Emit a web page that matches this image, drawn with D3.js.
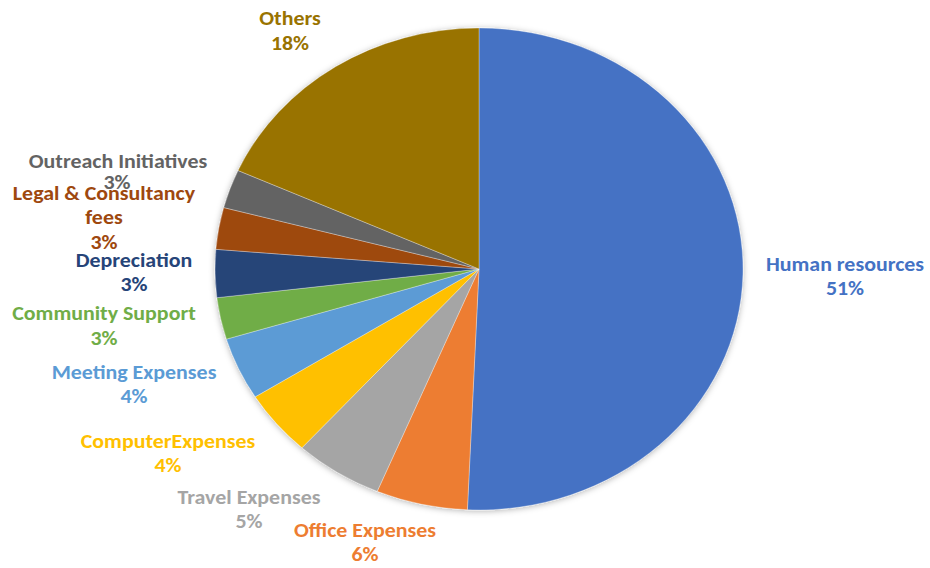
<!DOCTYPE html>
<html><head><meta charset="utf-8">
<script src="https://cdn.jsdelivr.net/npm/d3@7"></script>
<style>body{margin:0;background:#fff}svg{display:block}</style>
</head><body>
<svg id="chart" width="930" height="568"></svg>
<script>
// Data
const categories = ["Human resources","Office Expenses","Travel Expenses","ComputerExpenses","Meeting Expenses","Community Support","Depreciation","Legal & Consultancy fees","Outreach Initiatives","Others"];
const values = [50.7, 5.6, 5.4, 4.4, 4.2, 2.8, 3.2, 2.8, 2.6, 18.3];
const colors = ["#4472C4","#ED7D31","#A5A5A5","#FFC000","#5B9BD5","#70AD47","#264478","#9E480E","#636363","#997300"];

// Layout (label anchor centres, and line breaks)
const labelLines = [["Human resources"],["Office Expenses"],["Travel Expenses"],["ComputerExpenses"],["Meeting Expenses"],["Community Support"],["Depreciation"],["Legal & Consultancy","fees"],["Outreach Initiatives"],["Others"]];
const labelPos = [[845,264],[365,530],[249,497],[168,441],[134,372],[104,313],[134,260],[104,193],[118,161],[290,18]];
const pctPos = [[845,288],[365,554],[249,521],[168,465],[134,396],[104,338],[134,284],[104,242],[117,182],[290,43]];

const cx = 479, cy = 269, rx = 264, ry = 241;
const sx = rx / ry;
const svg = d3.select("#chart");
const defs = svg.append("defs");
const f = defs.append("filter").attr("id","sh").attr("x","-10%").attr("y","-10%").attr("width","120%").attr("height","120%");
f.append("feDropShadow").attr("dx",0).attr("dy",1).attr("stdDeviation",3).attr("flood-color","#000").attr("flood-opacity",0.3);

const total = d3.sum(values);
const pie = d3.pie().sort(null).value(d => d)(values);
const arc = d3.arc().innerRadius(0).outerRadius(ry);
const g = svg.append("g").attr("transform",`translate(${cx},${cy}) scale(${sx},1)`).attr("filter","url(#sh)");
g.selectAll("path").data(pie).join("path")
  .attr("d", arc)
  .attr("fill", (d,i) => colors[i])
  .attr("stroke", "#ffffff").attr("stroke-opacity",0.5).attr("stroke-width",0.6);

const font = "Calibri, Carlito, Lato, sans-serif";
const lg = svg.append("g").attr("font-family", font).attr("font-weight","bold").attr("font-size","20px").attr("text-anchor","middle");
function put(x, y, t, col) {
  lg.append("text").attr("transform", `translate(${x},${y}) scale(${sx},1)`).attr("dy","0.35em")
    .attr("fill", col).text(t);
}
categories.forEach((c,i) => {
  labelLines[i].forEach((t,k) => put(labelPos[i][0], labelPos[i][1] + k*24, t, colors[i]));
  put(pctPos[i][0], pctPos[i][1], Math.round(values[i]/total*100) + "%", colors[i]);
});
</script>
</body></html>
